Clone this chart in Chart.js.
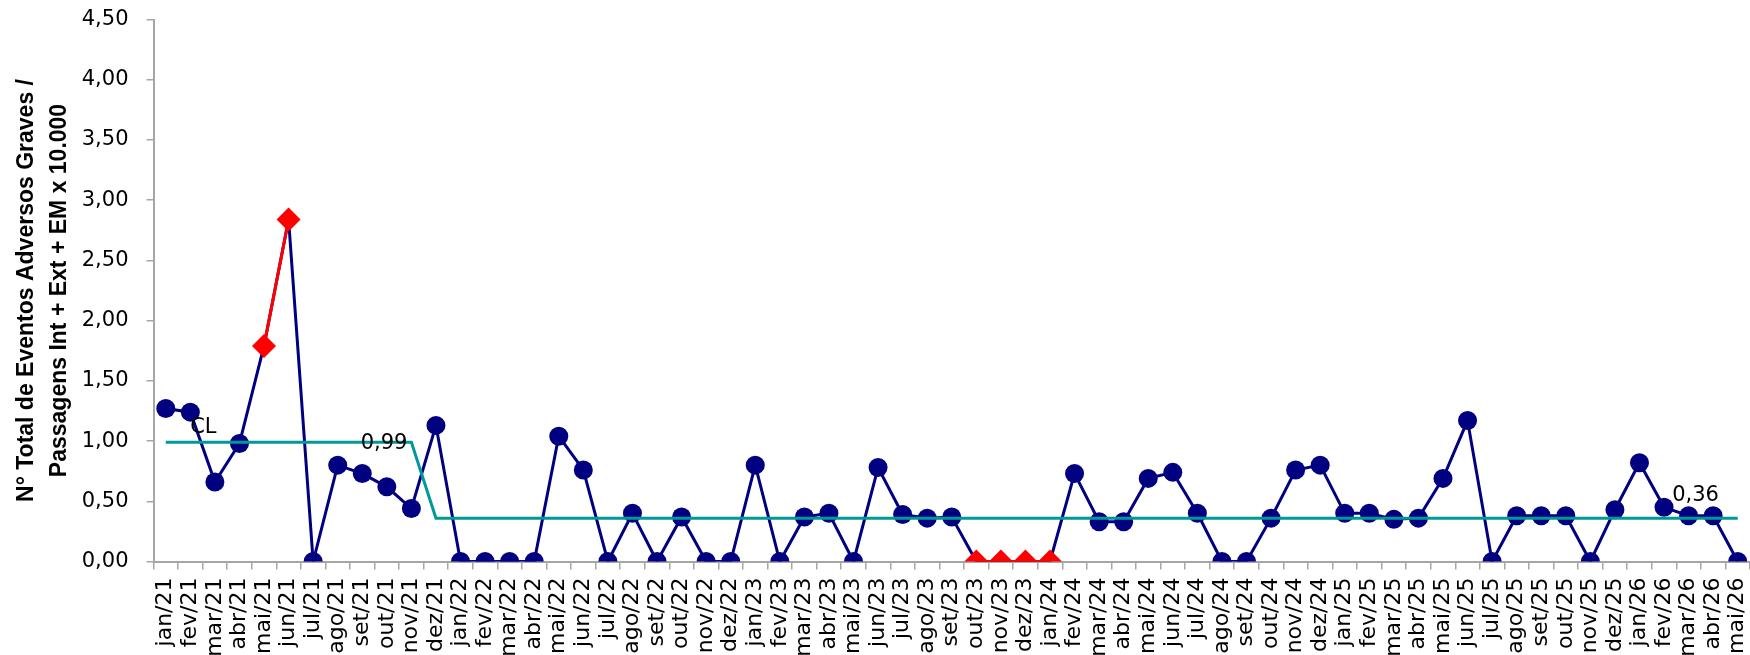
<!DOCTYPE html>
<html>
<head>
<meta charset="utf-8">
<script src="https://cdn.jsdelivr.net/npm/chart.js@4.4.1/dist/chart.umd.min.js"></script>
<style>
  html, body { margin: 0; padding: 0; background: #fff; overflow: hidden; }
  #wrap { width: 1750px; height: 655px; }
</style>
</head>
<body>
<div id="wrap"><canvas id="c" width="1750" height="655"></canvas></div>
<script>
const months = [
  'jan/21','fev/21','mar/21','abr/21','mai/21','jun/21','jul/21','ago/21','set/21','out/21','nov/21','dez/21',
  'jan/22','fev/22','mar/22','abr/22','mai/22','jun/22','jul/22','ago/22','set/22','out/22','nov/22','dez/22',
  'jan/23','fev/23','mar/23','abr/23','mai/23','jun/23','jul/23','ago/23','set/23','out/23','nov/23','dez/23',
  'jan/24','fev/24','mar/24','abr/24','mai/24','jun/24','jul/24','ago/24','set/24','out/24','nov/24','dez/24',
  'jan/25','fev/25','mar/25','abr/25','mai/25','jun/25','jul/25','ago/25','set/25','out/25','nov/25','dez/25',
  'jan/26','fev/26','mar/26','abr/26','mai/26'
];

const rateValues = [
  1.27, 1.24, 0.66, 0.98, 1.79, 2.84, 0.00, 0.80, 0.73, 0.62, 0.44, 1.13,
  0.00, 0.00, 0.00, 0.00, 1.04, 0.76, 0.00, 0.40, 0.00, 0.37, 0.00, 0.00,
  0.80, 0.00, 0.37, 0.40, 0.00, 0.78, 0.39, 0.36, 0.37, 0.00, 0.00, 0.00,
  0.00, 0.73, 0.33, 0.33, 0.69, 0.74, 0.40, 0.00, 0.00, 0.36, 0.76, 0.80,
  0.40, 0.40, 0.35, 0.36, 0.69, 1.17, 0.00, 0.38, 0.38, 0.38, 0.00, 0.43,
  0.82, 0.45, 0.38, 0.38, 0.00
];

const centerLine = [
  0.99, 0.99, 0.99, 0.99, 0.99, 0.99, 0.99, 0.99, 0.99, 0.99, 0.99, 0.36,
  0.36, 0.36, 0.36, 0.36, 0.36, 0.36, 0.36, 0.36, 0.36, 0.36, 0.36, 0.36,
  0.36, 0.36, 0.36, 0.36, 0.36, 0.36, 0.36, 0.36, 0.36, 0.36, 0.36, 0.36,
  0.36, 0.36, 0.36, 0.36, 0.36, 0.36, 0.36, 0.36, 0.36, 0.36, 0.36, 0.36,
  0.36, 0.36, 0.36, 0.36, 0.36, 0.36, 0.36, 0.36, 0.36, 0.36, 0.36, 0.36,
  0.36, 0.36, 0.36, 0.36, 0.36
];

const outOfControl = ['mai/21','jun/21','out/23','nov/23','dez/23','jan/24'];

const yTicks = [0, 0.5, 1, 1.5, 2, 2.5, 3, 3.5, 4, 4.5];

const yTitle = ['N° Total de Eventos Adversos Graves /', 'Passagens Int + Ext + EM x 10.000'];

const annotations = [
  { month: 'fev/21', value: 0.99, text: 'CL' },
  { month: 'nov/21', value: 0.99, text: '0,99' },
  { month: 'mar/26', value: 0.36, text: '0,36' }
];

const isFlagged = months.map(m => outOfControl.includes(m));
const flaggedValues = rateValues.map((v, i) => isFlagged[i] ? v : null);

const NAVY = '#000080';
const TEAL = '#009999';
const RED = '#FF0000';
const AXIS = '#a6a6a6';
const YFONT = { family: 'DejaVu Sans', size: 21 };
const XFONT = { family: 'DejaVu Sans', size: 22 };

const labelPlugin = {
  id: 'clLabels',
  afterDatasetsDraw(chart) {
    const { ctx, scales: { x, y } } = chart;
    ctx.save();
    ctx.font = '21px "DejaVu Sans"';
    ctx.fillStyle = '#000';
    ctx.textBaseline = 'middle';
    annotations.forEach((a, k) => {
      const px = x.getPixelForValue(months.indexOf(a.month));
      const py = y.getPixelForValue(a.value);
      if (k === 0) { ctx.textAlign = 'center'; ctx.fillText(a.text, px + 13, py - 15); }
      else if (k === 1) { ctx.textAlign = 'right'; ctx.fillText(a.text, px - 4, py + 1); }
      else { ctx.textAlign = 'center'; ctx.fillText(a.text, px + 7, py - 23); }
    });
    ctx.restore();
  }
};

new Chart(document.getElementById('c'), {
  type: 'line',
  data: {
    labels: months,
    datasets: [
      {
        label: 'Fora de controle',
        data: flaggedValues,
        borderColor: RED,
        backgroundColor: RED,
        borderWidth: 3,
        pointStyle: 'rectRot',
        pointRadius: 12,
        pointBorderWidth: 0,
        spanGaps: false,
        order: 1
      },
      {
        label: 'CL',
        data: centerLine,
        borderColor: TEAL,
        borderWidth: 3,
        pointRadius: 0,
        fill: false,
        order: 2
      },
      {
        label: 'Taxa',
        data: rateValues,
        borderColor: NAVY,
        backgroundColor: NAVY,
        borderWidth: 3,
        pointStyle: 'circle',
        pointRadius: ctx => isFlagged[ctx.dataIndex] ? 0 : 9.5,
        pointBorderWidth: 0,
        order: 3
      }
    ]
  },
  options: {
    responsive: false,
    animation: false,
    devicePixelRatio: 1,
    layout: { autoPadding: false, padding: { top: 19.5, right: 0, bottom: 0, left: 0 } },
    plugins: { legend: { display: false }, tooltip: { enabled: false } },
    scales: {
      x: {
        offset: true,
        grid: { display: true, drawOnChartArea: false, drawTicks: true, tickLength: 8, offset: true, color: AXIS, lineWidth: 1.5 },
        border: { display: true, color: AXIS, width: 2 },
        ticks: { autoSkip: false, maxRotation: 90, minRotation: 90, font: XFONT, color: '#000', padding: 8 },
        afterFit: s => { s.height = 93.5; s.paddingLeft = 0; s.paddingRight = 0; }
      },
      y: {
        min: 0,
        max: 4.5,
        afterBuildTicks: s => { s.ticks = yTicks.map(v => ({ value: v })); },
        grid: { display: true, drawOnChartArea: false, drawTicks: true, tickLength: 7, color: AXIS, lineWidth: 1.5 },
        border: { display: true, color: AXIS, width: 2 },
        ticks: {
          font: YFONT, color: '#000', padding: 18,
          callback: v => Number(v).toFixed(2).replace('.', ',')
        },
        title: {
          display: true,
          text: yTitle,
          color: '#000',
          font: { family: 'Liberation Sans', size: 23, weight: 'bold', lineHeight: 1.4 },
          padding: { top: 11, bottom: 0 }
        },
        afterFit: s => { s.width = 153.5; s.paddingTop = 0; s.paddingBottom = 0; }
      }
    }
  },
  plugins: [labelPlugin]
});
</script>
</body>
</html>
